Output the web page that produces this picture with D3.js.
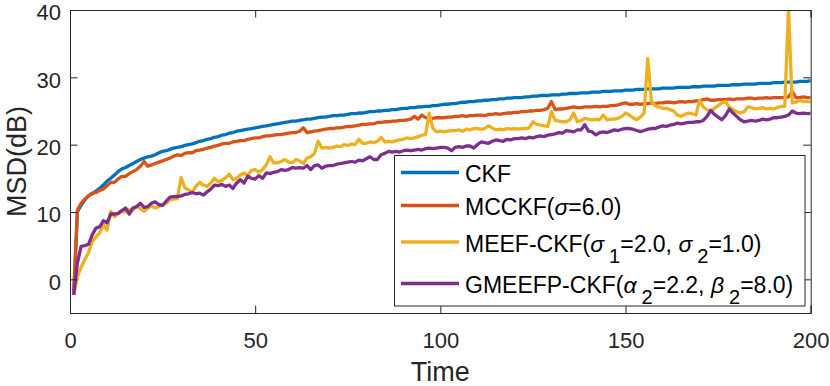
<!DOCTYPE html>
<html>
<head>
<meta charset="utf-8">
<script src="https://cdn.jsdelivr.net/npm/d3@7/dist/d3.min.js"></script>
<style>
  html, body { margin: 0; padding: 0; background: #fff; }
  svg { display: block; font-family: "Liberation Sans", Arial, Helvetica, sans-serif; }
</style>
</head>
<body>
<svg id="chart" width="830" height="386"></svg>
<script>
// ---- data (MSD in dB for time steps 1..200) ----
const ckf = [
-2.3,10.0,11.0,11.8,12.4,12.7,13.1,13.5,14.0,14.6,
15.0,15.5,16.0,16.4,16.6,16.9,17.2,17.5,17.8,18.0,
18.2,18.3,18.5,18.8,19.0,19.1,19.3,19.5,19.6,19.7,
19.9,20.0,20.1,20.3,20.5,20.6,20.8,20.9,21.1,21.2,
21.4,21.5,21.7,21.8,22.0,22.1,22.2,22.3,22.4,22.5,
22.6,22.7,22.8,22.9,23.0,23.1,23.2,23.3,23.4,23.5,
23.5,23.6,23.7,23.8,23.8,23.9,24.0,24.1,24.1,24.2,
24.3,24.3,24.4,24.4,24.5,24.6,24.6,24.7,24.7,24.8,
24.9,24.9,25.0,25.0,25.1,25.1,25.2,25.2,25.3,25.4,
25.4,25.5,25.5,25.6,25.6,25.7,25.7,25.8,25.8,25.9,
26.0,26.0,26.1,26.1,26.2,26.3,26.3,26.4,26.4,26.5,
26.5,26.6,26.6,26.7,26.7,26.8,26.8,26.9,26.9,27.0,
27.0,27.0,27.1,27.1,27.2,27.2,27.3,27.3,27.3,27.4,
27.4,27.4,27.5,27.5,27.6,27.6,27.6,27.7,27.7,27.7,
27.8,27.8,27.8,27.9,27.9,27.9,28.0,28.0,28.0,28.1,
28.1,28.1,28.2,28.2,28.2,28.3,28.3,28.3,28.3,28.4,
28.4,28.4,28.4,28.5,28.5,28.5,28.5,28.6,28.6,28.6,
28.7,28.7,28.7,28.7,28.8,28.8,28.8,28.8,28.9,28.9,
28.9,29.0,29.0,29.0,29.0,29.1,29.1,29.1,29.1,29.2,
29.2,29.2,29.3,29.3,29.3,29.3,29.4,29.4,29.4,29.5
];
const mcckf = [
-2.3,10.3,11.3,11.9,12.4,12.8,12.9,13.2,13.4,13.9,
14.4,14.4,14.9,15.3,15.3,15.7,16.0,16.3,16.8,17.5,
16.8,17.0,17.2,17.4,17.6,17.8,18.0,18.3,18.5,18.4,
18.7,18.8,18.8,19.1,19.2,19.3,19.5,19.6,19.8,19.9,
20.1,20.2,20.2,20.4,20.5,20.6,20.6,20.8,20.9,21.0,
21.0,21.2,21.3,21.3,21.4,21.5,21.5,21.6,21.7,21.8,
21.8,22.0,22.5,21.8,21.9,22.0,22.1,22.2,22.3,22.4,
22.4,22.5,22.5,22.6,22.7,22.7,22.8,22.9,23.0,23.0,
23.1,23.1,23.3,23.3,23.4,23.4,23.5,23.5,23.6,23.6,
23.7,23.8,24.2,23.8,24.4,24.0,23.9,23.9,24.0,24.0,
24.0,24.1,24.1,24.2,24.2,24.3,24.2,24.3,24.3,24.4,
24.4,24.3,24.5,24.5,24.6,24.5,24.6,24.7,24.7,24.8,
24.8,24.9,24.9,25.0,25.0,25.1,25.1,25.2,25.4,26.4,
25.2,25.3,25.3,25.4,25.5,25.6,25.5,25.5,25.6,25.6,
25.6,25.7,25.6,25.7,25.7,25.8,25.8,25.9,26.1,26.2,
26.0,26.0,26.1,26.0,26.1,26.1,26.2,26.1,26.2,26.2,
26.3,26.3,26.2,26.3,26.4,26.3,26.4,26.4,26.5,26.5,
26.7,26.8,26.6,26.6,26.7,26.7,26.7,26.8,26.7,26.8,
26.8,26.8,26.9,26.9,26.8,26.9,26.9,27.0,26.9,27.0,
27.0,27.0,27.0,27.1,27.9,27.0,27.0,27.1,27.0,27.0
];
const meef = [
-2.3,0.4,1.8,2.9,4.0,5.6,6.3,6.9,8.1,7.3,
10.1,9.3,9.8,10.1,10.0,10.4,10.3,10.9,10.5,10.1,
10.6,10.9,10.6,10.8,11.1,11.3,11.8,11.9,12.0,15.1,
13.6,13.3,12.9,13.8,14.4,14.0,13.8,14.3,15.0,14.5,
14.7,15.1,15.6,14.8,15.0,15.5,15.8,15.4,16.2,16.3,
15.9,16.3,17.0,18.2,17.3,17.3,17.5,17.8,17.4,17.3,
17.8,17.6,17.2,18.0,18.2,18.7,20.5,19.5,19.6,19.5,
19.6,19.8,19.7,20.0,19.9,20.1,20.0,20.8,20.2,20.2,
20.4,20.3,20.5,21.1,20.4,20.5,20.4,20.6,20.7,20.8,
21.0,20.9,21.0,21.2,21.4,21.5,24.7,22.4,21.9,22.0,
21.9,22.0,22.1,22.1,22.2,22.0,22.3,22.2,22.4,22.4,
22.3,22.4,22.8,22.5,22.2,22.3,22.2,22.4,22.3,22.4,
22.3,22.4,22.4,22.5,23.4,23.0,22.9,22.8,22.7,24.9,
23.6,23.5,23.4,23.4,23.7,24.7,23.4,23.6,23.9,23.8,
23.7,23.8,23.7,24.4,23.7,23.8,23.8,23.9,24.2,24.7,
24.4,24.0,23.7,24.1,24.7,32.8,26.4,25.8,25.6,25.4,
25.4,25.2,25.0,24.4,24.2,24.5,24.7,24.6,24.4,26.6,
25.6,25.2,24.9,25.4,25.8,26.2,26.4,25.6,25.2,24.9,
24.7,24.9,25.6,25.5,25.3,25.4,25.5,25.3,25.4,25.3,
25.5,25.7,25.7,40.3,26.2,26.3,26.6,26.4,26.4,26.4
];
const gmeefp = [
-2.3,2.4,4.9,5.0,5.2,6.6,7.6,7.8,8.7,8.4,
9.7,9.7,9.8,10.2,10.6,9.7,10.6,10.8,11.3,10.7,
10.8,11.3,11.5,11.1,11.0,11.6,12.2,12.3,12.3,12.4,
12.6,12.7,12.9,12.7,12.8,12.5,13.0,13.4,14.0,13.9,
14.1,13.8,14.0,13.5,14.3,14.8,14.3,15.3,15.0,14.9,
15.4,15.0,15.8,15.7,15.9,16.0,16.3,16.2,16.3,16.6,
16.5,16.6,16.5,16.9,16.3,16.9,17.0,16.5,16.8,16.9,
16.9,17.1,17.2,17.3,17.4,17.5,17.4,17.7,17.6,17.9,
18.2,17.8,17.8,18.5,18.7,19.0,18.9,19.0,18.9,19.1,
19.2,19.1,19.2,19.3,19.2,19.4,19.5,19.4,19.5,19.6,
19.6,19.5,19.1,19.6,19.7,19.6,19.8,19.8,19.5,20.0,
20.4,20.3,20.2,20.5,20.7,20.6,20.5,20.8,20.7,20.9,
20.9,21.0,20.9,21.1,21.0,21.2,21.3,21.2,21.4,21.5,
21.6,21.8,21.7,22.1,22.0,21.9,22.2,22.2,22.95,22.0,
21.9,21.45,21.8,21.9,21.8,22.0,22.2,22.1,22.3,22.4,
22.4,22.3,22.1,21.95,22.1,22.3,22.4,22.4,22.6,22.8,
22.7,22.9,23.0,23.2,23.1,23.2,23.3,23.3,23.4,23.4,
23.6,24.2,25.1,24.5,24.1,23.7,24.3,25.3,24.7,24.2,
23.7,23.4,23.5,23.6,23.5,23.6,23.8,23.7,23.8,24.0,
24.0,24.1,24.2,24.4,25.0,24.7,24.6,24.7,24.6,24.65
];
const seriesNames = ["CKF", "MCCKF", "MEEF-CKF", "GMEEFP-CKF"];
const seriesColors = ["#0072BD", "#D95319", "#EDB120", "#7E2F8E"];
const xTicks = [0, 50, 100, 150, 200];
const yTicks = [0, 10, 20, 30, 40];
const xLabel = "Time";
const yLabel = "MSD(dB)";

// ---- layout ----
const W = 830, H = 386;
const m = { left: 70, right: 19.3, top: 10, bottom: 73 };
const pw = W - m.left - m.right, ph = H - m.top - m.bottom;
const axisColor = "#262626";

const svg = d3.select("#chart");
const x = d3.scaleLinear().domain([0, 200]).range([m.left, m.left + pw]);
const y = d3.scaleLinear().domain([-5, 40]).range([m.top + ph, m.top]);

svg.append("defs").append("clipPath").attr("id", "clip")
  .append("rect").attr("x", m.left).attr("y", m.top).attr("width", pw).attr("height", ph);

const allSeries = [ckf, mcckf, meef, gmeefp];
const line = d3.line().x((d, i) => x(i + 1)).y(d => y(d));
const lg = svg.append("g").attr("clip-path", "url(#clip)");
allSeries.forEach((s, k) => {
  lg.append("path").datum(s).attr("d", line)
    .attr("fill", "none").attr("stroke", seriesColors[k])
    .attr("stroke-width", 3.3).attr("stroke-linejoin", "round").attr("stroke-linecap", "butt");
});

// axes (MATLAB-like box with inward ticks)
const tickLen = 7.5;
const fontTick = 22;
const gx = svg.append("g").attr("transform", `translate(0,${m.top + ph})`)
  .call(d3.axisBottom(x).tickValues(xTicks).tickSize(-tickLen).tickPadding(0).tickFormat(d3.format("d")));
const gxt = svg.append("g").attr("transform", `translate(0,${m.top})`)
  .call(d3.axisTop(x).tickValues(xTicks).tickSize(-tickLen).tickFormat(""));
const gy = svg.append("g").attr("transform", `translate(${m.left},0)`)
  .call(d3.axisLeft(y).tickValues(yTicks).tickSize(-tickLen).tickFormat(d3.format("d")));
const gyr = svg.append("g").attr("transform", `translate(${m.left + pw},0)`)
  .call(d3.axisRight(y).tickValues(yTicks).tickSize(-tickLen).tickFormat(""));

[gx, gxt, gy, gyr].forEach(g => {
  g.select(".domain").attr("stroke", axisColor).attr("stroke-width", 1);
  g.selectAll(".tick line").attr("stroke", axisColor).attr("stroke-width", 1);
});
gx.selectAll(".tick text").attr("fill", axisColor).attr("font-size", fontTick)
  .attr("font-family", "Liberation Sans, Arial, sans-serif")
  .attr("y", 35).attr("dy", 0);
gy.selectAll(".tick text").attr("fill", axisColor).attr("font-size", fontTick)
  .attr("font-family", "Liberation Sans, Arial, sans-serif")
  .attr("x", -9).attr("dy", "0.45em");

// axis labels
svg.append("text").attr("x", m.left + pw / 2).attr("y", 381)
  .attr("text-anchor", "middle").attr("font-size", 27).attr("fill", axisColor).text(xLabel);
svg.append("text").attr("transform", `translate(25.5,${m.top + ph / 2}) rotate(-90)`)
  .attr("text-anchor", "middle").attr("font-size", 27).attr("fill", axisColor).text(yLabel);

// legend
const leg = svg.append("g");
leg.append("rect").attr("x", 394.5).attr("y", 155.5).attr("width", 410.5).attr("height", 150.5)
  .attr("fill", "#fff").attr("stroke", axisColor).attr("stroke-width", 1);
const legY = [172.5, 205.5, 242, 283.5];
const legFont = 23;
const legendParts = [
  [{t: "CKF"}],
  [{t: "MCCKF("}, {t: "σ", it: true}, {t: "=6.0)"}],
  [{t: "MEEF-CKF("}, {t: "σ", it: true}, {t: "1", sub: true}, {t: "=2.0, "}, {t: "σ", it: true}, {t: "2", sub: true}, {t: "=1.0)"}],
  [{t: "GMEEFP-CKF("}, {t: "α", it: true}, {t: "2", sub: true}, {t: "=2.2, "}, {t: "β", it: true}, {t: "2", sub: true}, {t: "=8.0)"}]
];
seriesNames.forEach((name, k) => {
  leg.append("line").attr("x1", 401).attr("x2", 459).attr("y1", legY[k]).attr("y2", legY[k])
    .attr("stroke", seriesColors[k]).attr("stroke-width", 3.3);
  const t = leg.append("text").attr("x", 465).attr("y", legY[k] + 9.5)
    .attr("font-size", legFont).attr("fill", "#000");
  let shifted = false;
  legendParts[k].forEach(p => {
    const ts = t.append("tspan").text(p.t);
    if (p.it) ts.attr("font-style", "italic");
    if (p.sub) {
      ts.attr("font-size", 20).attr("dx", 5).attr("dy", 11);
      shifted = true;
    } else if (shifted) {
      ts.attr("dy", -11);
      shifted = false;
    }
  });
});
</script>
</body>
</html>
